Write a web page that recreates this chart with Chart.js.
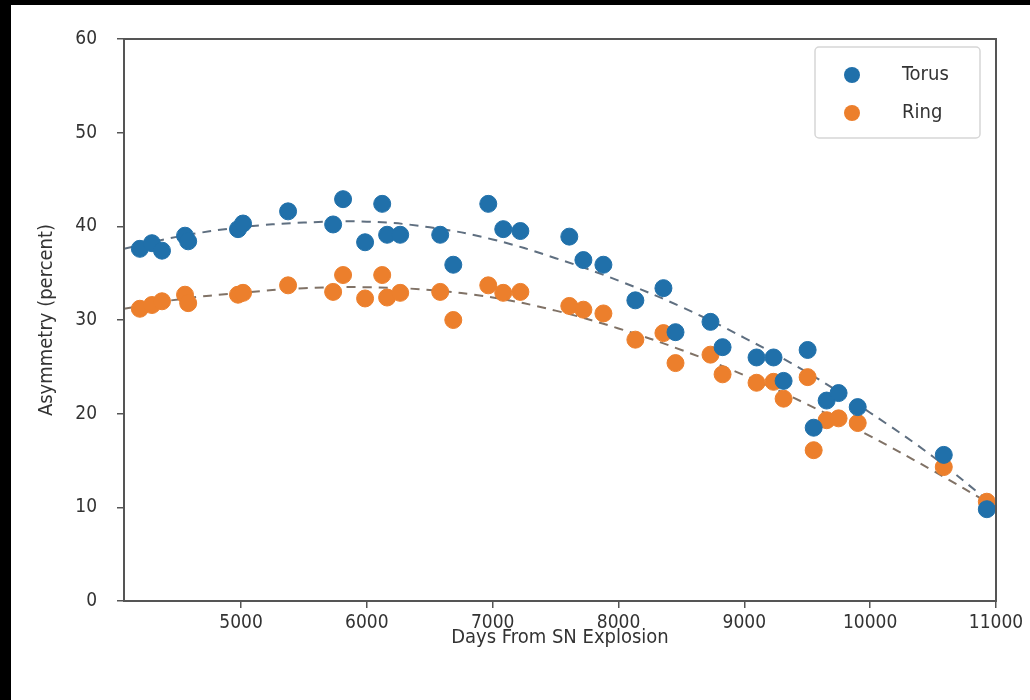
<!DOCTYPE html>
<html>
<head>
<meta charset="utf-8">
<script src="https://cdn.jsdelivr.net/npm/chart.js@4/dist/chart.umd.min.js"></script>
<style>
  body { margin: 0; background: #000; }
  #hoja { position: absolute; left: 11px; top: 5px; width: 1019px; height: 695px; background: #fff; }
</style>
</head>
<body>
<div id="hoja"><canvas id="myChart" width="1019" height="695"></canvas></div>
<script>
// Epocas de observacion (dias desde la explosion)
const dias = [4196, 4292, 4372, 4555, 4580, 4976, 5016, 5374, 5732, 5811, 5986, 6122, 6161, 6265,
  6583, 6687, 6965, 7084, 7220, 7609, 7721, 7880, 8134, 8357, 8453, 8731, 8827, 9097, 9232,
  9312, 9503, 9551, 9654, 9749, 9901, 10585, 10927];

// Asimetria (porcentaje) de cada modelo
const torus = [37.6, 38.2, 37.4, 39.0, 38.4, 39.7, 40.3, 41.6, 40.2, 42.9, 38.3, 42.4, 39.1, 39.1,
  39.1, 35.9, 42.4, 39.7, 39.5, 38.9, 36.4, 35.9, 32.1, 33.4, 28.7, 29.8, 27.1, 26.0, 26.0,
  23.5, 26.8, 18.5, 21.4, 22.2, 20.7, 15.6, 9.8];
const ring = [31.2, 31.6, 32.0, 32.7, 31.8, 32.7, 32.9, 33.7, 33.0, 34.8, 32.3, 34.8, 32.4, 32.9,
  33.0, 30.0, 33.7, 32.9, 33.0, 31.5, 31.1, 30.7, 27.9, 28.6, 25.4, 26.3, 24.2, 23.3, 23.4,
  21.6, 23.9, 16.1, 19.3, 19.5, 19.0, 14.3, 10.6];

// Curvas de ajuste
const ajusteDias = [4070, 4500, 5000, 5500, 6000, 6500, 7000, 7500, 8000, 8500, 9000, 9500, 10000, 10500, 11000];
const ajusteTorus = [37.6, 38.9, 39.9, 40.4, 40.5, 39.9, 38.6, 36.6, 34.2, 31.4, 28.1, 24.4, 20.1, 15.4, 10.0];
const ajusteRing = [31.2, 32.2, 32.9, 33.4, 33.5, 33.2, 32.4, 31.0, 29.1, 26.8, 24.1, 21.0, 17.6, 13.9, 10.0];

// Etiquetas de los ejes
const ticksX = [5000, 6000, 7000, 8000, 9000, 10000, 11000];
const ticksY = [0, 10, 20, 30, 40, 50, 60];

const AZUL = "#2070aa";
const NARANJA = "#ec7f2c";
const FUENTE = "'DejaVu Sans Condensed', 'Liberation Sans Narrow', 'DejaVu Sans', sans-serif";

function puntos(xs, ys) {
  return xs.map((x, i) => ({ x: x, y: ys[i] }));
}

// Marco completo (los cuatro lados) + leyenda dentro del area
const marco = {
  id: "marco",
  afterDraw(chart) {
    const { ctx, chartArea: a } = chart;
    ctx.save();
    ctx.strokeStyle = "#555";
    ctx.lineWidth = 2;
    ctx.strokeRect(a.left, a.top, a.right - a.left, a.bottom - a.top);

    // leyenda
    const w = 165, h = 91;
    const x0 = a.right - 16 - w, y0 = a.top + 8;
    ctx.fillStyle = "rgba(255,255,255,0.85)";
    ctx.strokeStyle = "#d6d6d6";
    ctx.lineWidth = 1.5;
    ctx.beginPath();
    ctx.roundRect(x0, y0, w, h, 4);
    ctx.fill();
    ctx.stroke();
    const items = [["Torus", AZUL], ["Ring", NARANJA]];
    ctx.font = "20px " + FUENTE;
    ctx.textBaseline = "middle";
    items.forEach((it, i) => {
      const cy = y0 + 28 + i * 38;
      ctx.fillStyle = it[1];
      ctx.beginPath();
      ctx.arc(x0 + 37, cy, 8, 0, Math.PI * 2);
      ctx.fill();
      ctx.fillStyle = "#333";
      ctx.fillText(it[0], x0 + 87, cy);
    });
    ctx.restore();
  }
};

const cnv = document.getElementById("myChart");

new Chart(cnv, {
  type: "scatter",
  data: {
    datasets: [
      {
        label: "Torus",
        data: puntos(dias, torus),
        backgroundColor: AZUL,
        borderColor: AZUL,
        pointRadius: 8.5,
        order: 0
      },
      {
        label: "Ring",
        data: puntos(dias, ring),
        backgroundColor: NARANJA,
        borderColor: NARANJA,
        pointRadius: 8.5,
        order: 0
      },
      {
        label: "ajuste torus",
        data: puntos(ajusteDias, ajusteTorus),
        showLine: true,
        pointRadius: 0,
        borderColor: "#5f6f80",
        borderWidth: 2,
        borderDash: [9, 7],
        tension: 0.4,
        order: 1
      },
      {
        label: "ajuste ring",
        data: puntos(ajusteDias, ajusteRing),
        showLine: true,
        pointRadius: 0,
        borderColor: "#807266",
        borderWidth: 2,
        borderDash: [9, 7],
        tension: 0.4,
        order: 1
      }
    ]
  },
  options: {
    responsive: false,
    animation: false,
    layout: { padding: { left: 24, top: 34, right: 34, bottom: 50 } },
    plugins: {
      legend: { display: false },
      tooltip: { enabled: false }
    },
    scales: {
      x: {
        type: "linear",
        min: 4070,
        max: 11000,
        afterBuildTicks: (s) => { s.ticks = ticksX.map(v => ({ value: v })); },
        afterFit: (s) => { s.height = 49; },
        grid: { drawOnChartArea: false, tickLength: 7, color: "#555", lineWidth: 1.5 },
        border: { color: "#555", width: 2 },
        ticks: { padding: 4, color: "#333", font: { family: FUENTE, size: 19 }, callback: (v) => String(v) },
        title: {
          display: true,
          text: "Days From SN Explosion",
          color: "#333",
          padding: 0,
          font: { family: FUENTE, size: 20 }
        }
      },
      y: {
        min: 0,
        max: 60,
        afterBuildTicks: (s) => { s.ticks = ticksY.map(v => ({ value: v })); },
        afterFit: (s) => { s.width = 89; },
        grid: { drawOnChartArea: false, tickLength: 7, color: "#555", lineWidth: 1.5 },
        border: { color: "#555", width: 2 },
        ticks: { padding: 20, color: "#333", font: { family: FUENTE, size: 19 }, callback: (v) => String(v) },
        title: {
          display: true,
          text: "Asymmetry (percent)",
          color: "#333",
          padding: 0,
          font: { family: FUENTE, size: 20 }
        }
      }
    }
  },
  plugins: [marco]
});
</script>
</body>
</html>
